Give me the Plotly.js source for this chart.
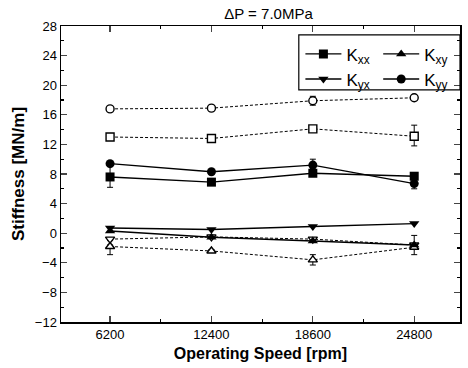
<!DOCTYPE html>
<html><head><meta charset="utf-8">
<script src="https://cdn.plot.ly/plotly-3.0.1.min.js"></script>
<style>html,body{margin:0;padding:0;background:#fff}</style>
</head><body><div id="chart" style="width:468px;height:368px"></div>
<script>
// Operating speeds (rpm)
const speeds = [6200, 12400, 18600, 24800];
const xTicks = [6200, 12400, 18600, 24800];
const xTickText = ['6200', '12400', '18600', '24800'];

// Measured (filled) stiffness coefficients [MN/m]
const Kxx = [7.6, 6.9, 8.1, 7.7];
const Kxx_err = [1.4, 0.2, 0.3, 0.3];
const Kxy = [0.3, -0.55, -1.05, -1.6];
const Kyx = [0.7, 0.5, 0.9, 1.3];
const Kyy = [9.4, 8.3, 9.2, 6.7];
const Kyy_err = [0.2, 0.2, 0.8, 0.7];

// Open-marker (dashed) series
const openCircle = [16.8, 16.9, 17.9, 18.3];
const openCircle_err = [0.2, 0.2, 0.6, 0.2];
const openSquare = [13.0, 12.8, 14.1, 13.1];
const openSquare_errPlus = [0.2, 0.2, 0.2, 1.5];
const openSquare_errMinus = [0.2, 0.2, 0.2, 1.3];
const openDown = [-0.8, -0.5, -0.8, -1.6];
const openDown_err = [0.2, 0.2, 0.2, 1.3];
const openUp = [-1.8, -2.4, -3.6, -1.9];
const openUp_errMinus = [1.1, 0.2, 0.7, 0.2];
const openUp_errPlus = [0.2, 0.2, 0.7, 0.2];

const names = ['K<sub>xx</sub>', 'K<sub>xy</sub>', 'K<sub>yx</sub>', 'K<sub>yy</sub>'];

function errY(plus, minus) {
  return {type: 'data', array: plus, arrayminus: minus || plus, symmetric: !minus,
          color: '#000', thickness: 1, width: 3};
}
function solid(y, name, sym, leg, err) {
  const t = {x: speeds, y: y, name: name, mode: 'lines+markers', legend: leg,
    line: {color: '#000', width: 1.4},
    marker: {symbol: sym, size: 9, color: '#000'}};
  if (err) t.error_y = errY(err);
  return t;
}
function dashed(y, sym, plus, minus) {
  return {x: speeds, y: y, mode: 'lines+markers', showlegend: false,
    line: {color: '#000', width: 1, dash: '3px,2px'},
    marker: {symbol: sym, size: 8, color: '#fff', line: {color: '#000', width: 1.4}},
    error_y: errY(plus, minus)};
}

const data = [
  dashed(openCircle, 'circle', openCircle_err),
  dashed(openSquare, 'square', openSquare_errPlus, openSquare_errMinus),
  dashed(openDown, 'triangle-down', openDown_err),
  dashed(openUp, 'triangle-up', openUp_errPlus, openUp_errMinus),
  solid(Kxx, names[0], 'square', 'legend', Kxx_err),
  solid(Kyx, names[2], 'triangle-down', 'legend'),
  solid(Kxy, names[1], 'triangle-up', 'legend2'),
  solid(Kyy, names[3], 'circle', 'legend2', Kyy_err)
];

const font = {family: 'Liberation Sans, Arial, sans-serif', color: '#000'};
const legendCommon = {orientation: 'v', bgcolor: 'rgba(0,0,0,0)', borderwidth: 0,
  xanchor: 'left', yanchor: 'top', y: 0.965, tracegroupgap: 0,
  font: Object.assign({}, font, {size: 17}), itemwidth: 36};

const layout = {
  width: 468, height: 368,
  margin: {l: 61, r: 8, t: 26, b: 46},
  paper_bgcolor: '#fff', plot_bgcolor: '#fff',
  font: Object.assign({}, font, {size: 13}),
  title: {text: '\u0394P = 7.0MPa', font: Object.assign({}, font, {size: 15}),
          xref: 'paper', x: 0.52, xanchor: 'center', yref: 'container', y: 0.962, yanchor: 'middle'},
  xaxis: {range: [3200, 27600], tickvals: xTicks, ticktext: xTickText, ticks: 'inside', ticklen: 6, tickwidth: 1.2,
    showline: true, linecolor: '#000', linewidth: 1.5, mirror: 'ticks', showgrid: false, zeroline: false,
    minor: {tickvals: [9300, 15500, 21700], ticks: 'inside', ticklen: 3, tickcolor: '#000'},
    tickfont: Object.assign({}, font, {size: 13}),
    title: {text: 'Operating Speed [rpm]', font: Object.assign({}, font, {size: 16, weight: 'bold'}), standoff: 6}},
  yaxis: {range: [-12, 28], dtick: 4, tick0: 0, ticks: 'inside', ticklen: 6, tickwidth: 1.2,
    showline: true, linecolor: '#000', linewidth: 1.5, mirror: 'ticks', showgrid: false, zeroline: false,
    minor: {dtick: 2, ticks: 'inside', ticklen: 3, tickcolor: '#000'},
    tickfont: Object.assign({}, font, {size: 13}),
    title: {text: 'Stiffness [MN/m]', font: Object.assign({}, font, {size: 17, weight: 'bold'}), standoff: 6}},
  legend: Object.assign({}, legendCommon, {x: 0.6}),
  legend2: Object.assign({}, legendCommon, {x: 0.795}),
  shapes: [{type: 'rect', xref: 'paper', yref: 'paper', x0: 0.596, x1: 1.0, y0: 0.784, y1: 0.97,
    line: {color: '#000', width: 1.2}, fillcolor: 'rgba(0,0,0,0)'}],
  showlegend: true
};

Plotly.newPlot('chart', data, layout, {displayModeBar: false, staticPlot: true});
</script></body></html>
